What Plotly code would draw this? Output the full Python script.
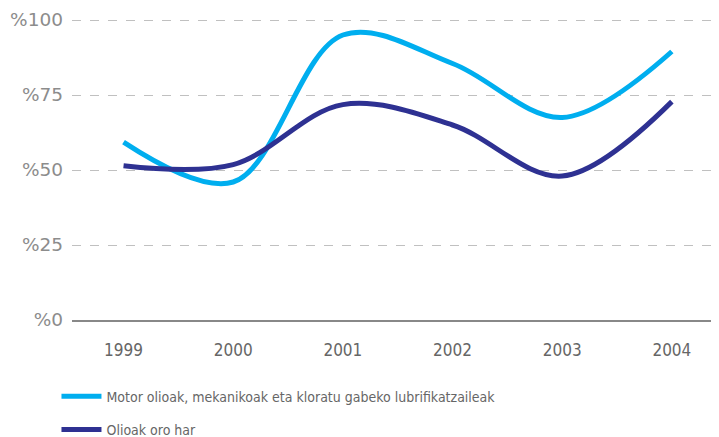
import plotly.graph_objects as go

years = ["1999", "2000", "2001", "2002", "2003", "2004"]
motor = [59.3, 46.0, 95.0, 85.5, 67.5, 89.5]
oro_har = [51.4, 51.8, 71.8, 65.0, 48.0, 72.8]
ytick_vals = [0, 25, 50, 75, 100]
ytick_text = ["%0", "%25", "%50", "%75", "%100"]
names = ["Motor olioak, mekanikoak eta kloratu gabeko lubrifikatzaileak", "Olioak oro har"]

fig = go.Figure()
fig.add_trace(go.Scatter(x=years, y=motor, mode="lines", name=names[0], legendgroup="a",
                         line=dict(color="#00AEEF", width=5, shape="spline", smoothing=1.0)))
fig.add_trace(go.Scatter(x=years, y=oro_har, mode="lines", name=names[1], legendgroup="b",
                         line=dict(color="#2E3192", width=5, shape="spline", smoothing=1.0)))

fig.update_layout(
    width=711, height=429,
    margin=dict(l=64, r=0, t=9, b=117, autoexpand=False),
    plot_bgcolor="white", paper_bgcolor="white",
    showlegend=True,
    legend=dict(x=-0.024, y=-0.2, xanchor="left", yanchor="top",
                font=dict(family="DejaVu Sans Condensed", size=14, color="#666666"),
                traceorder="grouped", tracegroupgap=12, itemwidth=40, bgcolor="rgba(0,0,0,0)"),
    xaxis=dict(type="category", range=[-0.47, 5.43], showgrid=False, showline=True,
               linecolor="#888888", linewidth=2, ticks="", ticklabelstandoff=14, tickangle=0,
               tickfont=dict(family="DejaVu Sans Condensed", size=17, color="#666666")),
    yaxis=dict(range=[0, 101], tickvals=ytick_vals, ticktext=ytick_text, showgrid=True,
               gridcolor="#c0c0c0", griddash="dash", gridwidth=1, zeroline=False,
               ticks="", ticklabelstandoff=8,
               tickfont=dict(family="DejaVu Sans", size=18.5, color="#8c8c8c")),
)
fig.write_html("out.html")
